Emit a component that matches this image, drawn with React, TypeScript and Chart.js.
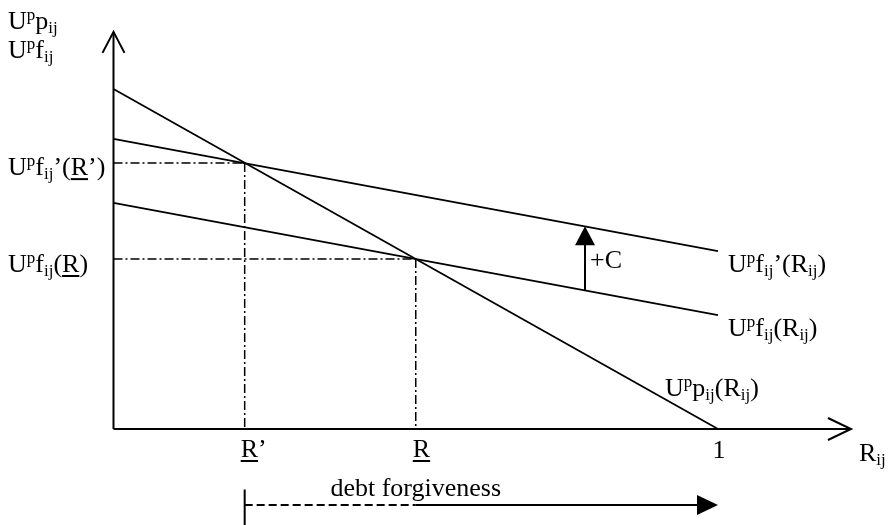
import React, { useEffect, useRef } from "react";
import { Chart, registerables } from "chart.js";

Chart.register(...registerables);

// ---- Data (model units: R on x, utility on y) ----
const R_GRID = [0, 1];
const P_VALUES = [1, 0]; // U^p p_ij(R_ij)
const F_VALUES = [0.665, 0.335]; // U^p f_ij(R_ij)
const F_PRIME_VALUES = [0.853, 0.523]; // U^p f_ij'(R_ij)

const R_PRIME = 0.217; // R' (underlined)
const R_BAR = 0.5; // R (underlined)
const R_ONE = 1;
const F_PRIME_AT_R_PRIME = 0.782;
const F_AT_R_BAR = 0.5;

const C_AT = 0.78; // where the +C arrow is drawn
const C_FROM = 0.408;
const C_TO = 0.596;

const Y_AXIS_TOP = 1.168;
const X_AXIS_END = 1.22;

const DEBT_Y = -0.2235;
const DEBT_TICK = [-0.178, -0.3];

const X_TICK_LABELS = ["R'", "R", "1"];

const FONT = '"Liberation Serif", "Times New Roman", serif';
const F = 26;
const S = 17;

type Seg = [string, "" | "sup" | "sub" | "u"];

function drawRich(
  ctx: CanvasRenderingContext2D,
  segs: Seg[],
  x: number,
  y: number,
  align: "left" | "center" = "left"
) {
  const widths = segs.map(([t, k]) => {
    ctx.font = `${k === "sup" || k === "sub" ? S : F}px ${FONT}`;
    return ctx.measureText(t).width;
  });
  const total = widths.reduce((a, b) => a + b, 0);
  let cx = align === "center" ? x - total / 2 : x;
  ctx.textAlign = "left";
  ctx.textBaseline = "alphabetic";
  ctx.fillStyle = "#000";
  segs.forEach(([t, k], i) => {
    ctx.font = `${k === "sup" || k === "sub" ? S : F}px ${FONT}`;
    const dy = k === "sup" ? -9 : k === "sub" ? 4 : 0;
    ctx.fillText(t, cx, y + dy);
    if (k === "u") ctx.fillRect(cx, y + 3, widths[i], 2);
    cx += widths[i];
  });
}

const pts = (xs: number[], ys: number[]) => xs.map((x, i) => ({ x, y: ys[i] }));

export default function App() {
  const ref = useRef<HTMLCanvasElement>(null);

  useEffect(() => {
    if (!ref.current) return;
    const solid = (data: any[], w = 1.8) => ({
      data,
      showLine: true,
      borderColor: "#000",
      borderWidth: w,
      pointRadius: 0,
      tension: 0,
      fill: false,
      clip: false as any,
    });
    const dashDot = (data: any[]) => ({ ...solid(data, 1.5), borderDash: [9, 3, 2, 3] });

    const overlay = {
      id: "overlay",
      afterDatasetsDraw(chart: any) {
        const ctx: CanvasRenderingContext2D = chart.ctx;
        const xs = chart.scales.x;
        const ys = chart.scales.y;
        const px = (v: number) => xs.getPixelForValue(v);
        const py = (v: number) => ys.getPixelForValue(v);
        ctx.save();
        ctx.strokeStyle = "#000";
        ctx.fillStyle = "#000";
        ctx.lineWidth = 2;
        // open arrow on y axis
        const yx = px(0), yy = py(Y_AXIS_TOP);
        ctx.beginPath();
        ctx.moveTo(yx - 11, yy + 21);
        ctx.lineTo(yx, yy);
        ctx.lineTo(yx + 11, yy + 21);
        ctx.stroke();
        // open arrow on x axis
        const xx = px(X_AXIS_END), xy = py(0);
        ctx.beginPath();
        ctx.moveTo(xx - 23, xy - 11);
        ctx.lineTo(xx, xy);
        ctx.lineTo(xx - 23, xy + 11);
        ctx.stroke();
        // +C filled arrow head
        const cx = px(C_AT), cy = py(C_TO);
        ctx.beginPath();
        ctx.moveTo(cx, cy);
        ctx.lineTo(cx - 10, cy + 19);
        ctx.lineTo(cx + 10, cy + 19);
        ctx.closePath();
        ctx.fill();
        // debt forgiveness arrow head
        const dx = px(R_ONE), dy = py(DEBT_Y);
        ctx.beginPath();
        ctx.moveTo(dx, dy);
        ctx.lineTo(dx - 21, dy - 10);
        ctx.lineTo(dx - 21, dy + 10);
        ctx.closePath();
        ctx.fill();

        // y-axis titles
        drawRich(ctx, [["U", ""], ["p", "sup"], ["p", ""], ["ij", "sub"]], 8, 29);
        drawRich(ctx, [["U", ""], ["p", "sup"], ["f", ""], ["ij", "sub"]], 8, 58);
        // left value labels
        drawRich(
          ctx,
          [["U", ""], ["p", "sup"], ["f", ""], ["ij", "sub"], ["\u2019(", ""], ["R", "u"], ["\u2019)", ""]],
          8,
          py(F_PRIME_AT_R_PRIME) + 12
        );
        drawRich(
          ctx,
          [["U", ""], ["p", "sup"], ["f", ""], ["ij", "sub"], ["(", ""], ["R", "u"], [")", ""]],
          8,
          py(F_AT_R_BAR) + 13
        );
        // curve labels
        const endX = px(R_ONE);
        drawRich(
          ctx,
          [["U", ""], ["p", "sup"], ["f", ""], ["ij", "sub"], ["\u2019(R", ""], ["ij", "sub"], [")", ""]],
          endX + 10,
          py(F_PRIME_VALUES[1]) + 21
        );
        drawRich(
          ctx,
          [["U", ""], ["p", "sup"], ["f", ""], ["ij", "sub"], ["(R", ""], ["ij", "sub"], [")", ""]],
          endX + 10,
          py(F_VALUES[1]) + 21
        );
        drawRich(
          ctx,
          [["U", ""], ["p", "sup"], ["p", ""], ["ij", "sub"], ["(R", ""], ["ij", "sub"], [")", ""]],
          endX - 53,
          py(0) - 33
        );
        // +C
        drawRich(ctx, [["+C", ""]], cx + 5, py((C_FROM + C_TO) / 2) + 10);
        // x tick labels
        const base = py(0) + 28;
        drawRich(ctx, [["R", "u"], ["\u2019", ""]], px(R_PRIME) - 4, base);
        drawRich(ctx, [[X_TICK_LABELS[1], "u"]], px(R_BAR) - 3, base);
        drawRich(ctx, [[X_TICK_LABELS[2], ""]], px(R_ONE) + 1, base + 1, "center");
        drawRich(ctx, [["R", ""], ["ij", "sub"]], xx + 8, base + 4);
        // debt forgiveness
        drawRich(ctx, [["debt forgiveness", ""]], px(R_BAR), py(DEBT_Y) - 9, "center");
        ctx.restore();
      },
    };

    const chart = new Chart(ref.current, {
      type: "scatter",
      data: {
        datasets: [
          solid([{ x: 0, y: 0 }, { x: 0, y: Y_AXIS_TOP }], 2),
          solid([{ x: 0, y: 0 }, { x: X_AXIS_END, y: 0 }], 2),
          solid(pts(R_GRID, P_VALUES)),
          solid(pts(R_GRID, F_VALUES)),
          solid(pts(R_GRID, F_PRIME_VALUES)),
          dashDot([{ x: 0, y: F_PRIME_AT_R_PRIME }, { x: R_PRIME, y: F_PRIME_AT_R_PRIME }]),
          dashDot([{ x: R_PRIME, y: F_PRIME_AT_R_PRIME }, { x: R_PRIME, y: 0 }]),
          dashDot([{ x: 0, y: F_AT_R_BAR }, { x: R_BAR, y: F_AT_R_BAR }]),
          dashDot([{ x: R_BAR, y: F_AT_R_BAR }, { x: R_BAR, y: 0 }]),
          solid([{ x: C_AT, y: C_FROM }, { x: C_AT, y: C_TO - 0.03 }], 2),
          { ...solid([{ x: R_PRIME, y: DEBT_Y }, { x: R_BAR, y: DEBT_Y }], 1.8), borderDash: [8, 4] },
          solid([{ x: R_BAR, y: DEBT_Y }, { x: R_ONE - 0.03, y: DEBT_Y }], 2),
          solid([{ x: R_PRIME, y: DEBT_TICK[0] }, { x: R_PRIME, y: DEBT_TICK[1] }], 2),
        ] as any,
      },
      plugins: [overlay],
      options: {
        animation: false,
        responsive: false,
        events: [],
        layout: { padding: 0 },
        plugins: { legend: { display: false }, tooltip: { enabled: false }, title: { display: false } },
        scales: {
          x: { type: "linear", display: false, min: -0.18776, max: 1.28122 },
          y: { type: "linear", display: false, min: -0.28235, max: 1.26176 },
        },
      },
    });
    return () => chart.destroy();
  }, []);

  return (
    <div style={{ position: "fixed", left: 0, top: 0, width: 888, height: 525, background: "#fff" }}>
      <canvas ref={ref} width={888} height={525} />
    </div>
  );
}
